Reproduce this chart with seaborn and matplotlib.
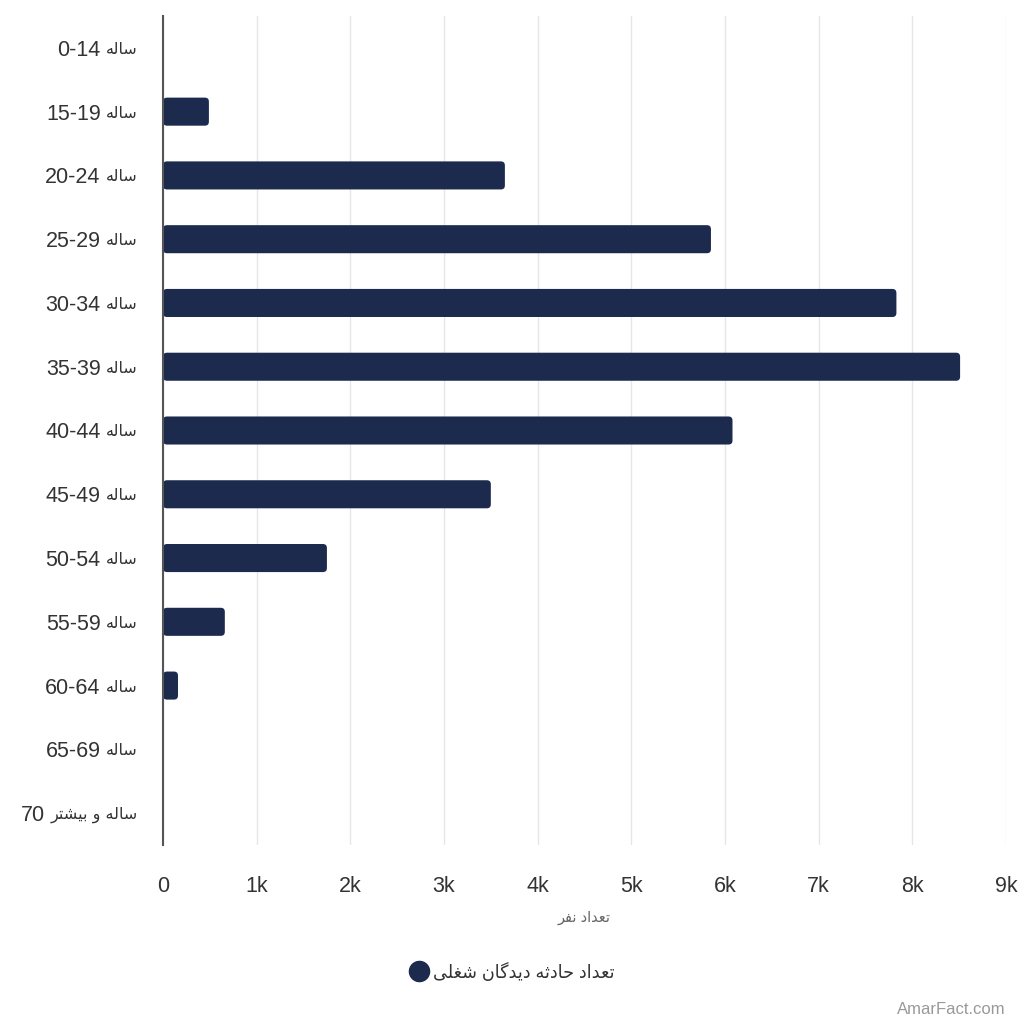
import re
import matplotlib
matplotlib.use("Agg")
import matplotlib.pyplot as plt
from matplotlib.patches import FancyBboxPatch
from matplotlib.lines import Line2D
import seaborn as sns
import pandas as pd

# ---- data ----
age_groups = ["0-14 ساله", "15-19 ساله", "20-24 ساله", "25-29 ساله", "30-34 ساله",
              "35-39 ساله", "40-44 ساله", "45-49 ساله", "50-54 ساله", "55-59 ساله",
              "60-64 ساله", "65-69 ساله", "70 ساله و بیشتر"]
injured = [0, 490, 3650, 5850, 7830, 8510, 6080, 3500, 1750, 660, 160, 0, 0]
series_name = "تعداد حادثه دیدگان شغلی"
x_label = "تعداد نفر"
x_ticks = [0, 1000, 2000, 3000, 4000, 5000, 6000, 7000, 8000, 9000]
x_ticklabels = ["0", "1k", "2k", "3k", "4k", "5k", "6k", "7k", "8k", "9k"]
watermark = "AmarFact.com"

# ---- simple Persian shaping (presentation forms) ----
FORMS = {
    'ا': ('\uFE8D', '\uFE8E', None, None),
    'ب': ('\uFE8F', '\uFE90', '\uFE91', '\uFE92'),
    'ت': ('\uFE95', '\uFE96', '\uFE97', '\uFE98'),
    'ث': ('\uFE99', '\uFE9A', '\uFE9B', '\uFE9C'),
    'ح': ('\uFEA1', '\uFEA2', '\uFEA3', '\uFEA4'),
    'د': ('\uFEA9', '\uFEAA', None, None),
    'ر': ('\uFEAD', '\uFEAE', None, None),
    'س': ('\uFEB1', '\uFEB2', '\uFEB3', '\uFEB4'),
    'ش': ('\uFEB5', '\uFEB6', '\uFEB7', '\uFEB8'),
    'ع': ('\uFEC9', '\uFECA', '\uFECB', '\uFECC'),
    'غ': ('\uFECD', '\uFECE', '\uFECF', '\uFED0'),
    'ف': ('\uFED1', '\uFED2', '\uFED3', '\uFED4'),
    'ل': ('\uFEDD', '\uFEDE', '\uFEDF', '\uFEE0'),
    'ن': ('\uFEE5', '\uFEE6', '\uFEE7', '\uFEE8'),
    'ه': ('\uFEE9', '\uFEEA', '\uFEEB', '\uFEEC'),
    'و': ('\uFEED', '\uFEEE', None, None),
    'ی': ('\uFBFC', '\uFBFD', '\uFBFE', '\uFBFF'),
    'گ': ('\uFB92', '\uFB93', '\uFB94', '\uFB95'),
}


def shape(word):
    out = []
    for i, c in enumerate(word):
        if c not in FORMS:
            out.append(c)
            continue
        prev = word[i - 1] if i > 0 else None
        nxt = word[i + 1] if i + 1 < len(word) else None
        jp = prev in FORMS and FORMS[prev][2] is not None
        jn = nxt in FORMS and FORMS[c][2] is not None
        iso, fin, ini, med = FORMS[c]
        out.append(med if (jp and jn) else fin if jp else ini if jn else iso)
    return ''.join(out)


ARABIC_RUN = re.compile(r'[\u0600-\u06FF]+(?:\s+[\u0600-\u06FF]+)*')


def visual(s):
    return ARABIC_RUN.sub(lambda m: shape(m.group(0))[::-1], s)


# ---- plot ----
sns.set_theme(style="white")
plt.rcParams['font.family'] = ['Liberation Sans', 'DejaVu Sans']

navy = "#1c2a4d"
fig = plt.figure(figsize=(10.24, 10.24), dpi=100)
ax = fig.add_axes([163 / 1024, 1 - 845 / 1024, (1006 - 163) / 1024, (845 - 16) / 1024])

df = pd.DataFrame({"age": age_groups, "value": injured})
sns.barplot(data=df, x="value", y="age", orient="h", color=navy, saturation=1,
            width=0.44, ax=ax, zorder=3)

# rounded bars
x_per_px = 9000 / (1006 - 163)
y_per_px = 13 / (845 - 16)
for p in list(ax.patches):
    x0, y0 = p.get_x(), p.get_y()
    w, h = p.get_width(), p.get_height()
    p.remove()
    if w <= 0:
        continue
    ax.add_patch(FancyBboxPatch((x0, y0), w, h,
                                boxstyle=f"round,pad=0,rounding_size={4 * x_per_px}",
                                mutation_aspect=y_per_px / x_per_px,
                                fc=navy, ec="none", zorder=3))

ax.set_xlim(0, 9000)
ax.set_ylim(12.5, -0.5)
ax.set_xticks(x_ticks)
ax.set_xticklabels(x_ticklabels)
ax.grid(axis="x", color="#e6e6e6", lw=1, zorder=0)
ax.grid(axis="y", visible=False)
for s in ["top", "right", "bottom"]:
    ax.spines[s].set_visible(False)
ax.spines["left"].set_color("#555555")
ax.spines["left"].set_linewidth(1.5)
ax.spines["left"].set_zorder(4)
ax.tick_params(axis="x", length=0, pad=22, labelsize=15.5, labelcolor="#333333")
ax.tick_params(axis="y", length=0)
ax.set_yticklabels([])
ax.set_ylabel("")
ax.set_xlabel(visual(x_label), fontsize=10.5, color="#666666", labelpad=10)

# y labels: number part (Liberation) + Persian part (smaller, DejaVu)
ytrans = ax.get_yaxis_transform()
for i, lab in enumerate(age_groups):
    num, word = lab.split(" ", 1)
    t_word = ax.annotate(visual(word), xy=(0, i), xycoords=ytrans,
                         xytext=(-18, 0), textcoords="offset points",
                         ha="right", va="center_baseline", fontsize=11.5,
                         color="#333333", family="DejaVu Sans")
    ax.annotate(num, xy=(0, i), xycoords=(t_word, ytrans),
                xytext=(-4, 0), textcoords="offset points",
                ha="right", va="center_baseline", fontsize=15.5,
                color="#333333", family="Liberation Sans")

handle = Line2D([], [], marker="o", color="none", markerfacecolor=navy,
                markeredgecolor=navy, markersize=14.5)
fig.legend([handle], [visual(series_name)], loc="center", bbox_to_anchor=(0.5, 1 - 972 / 1024),
           frameon=False, fontsize=12.7, labelcolor="#333333", handletextpad=0.3,
           handlelength=1.0)

fig.text(1006 / 1024, 1 - 1010 / 1024, watermark, ha="right", va="center",
         fontsize=12, color="#999999")

fig.savefig("out.png", dpi=100)
